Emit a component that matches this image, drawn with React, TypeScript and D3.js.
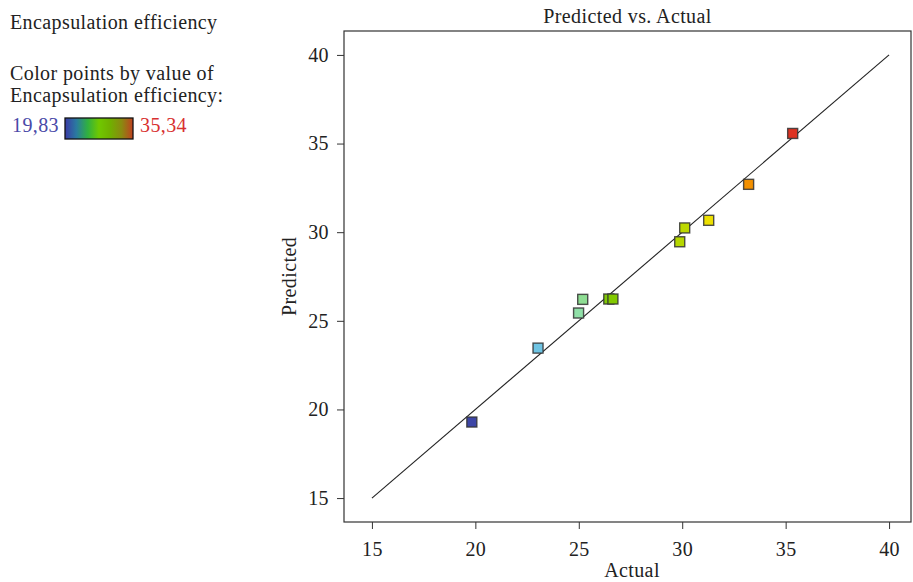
import * as d3 from "d3";
import { useEffect, useRef } from "react";

// actual vs predicted encapsulation efficiency
const actual = [19.83, 23.03, 24.99, 25.19, 26.45, 26.65, 29.88, 30.12, 31.28, 33.21, 35.34];
const predicted = [19.29, 23.46, 25.44, 26.21, 26.23, 26.23, 29.46, 30.24, 30.67, 32.70, 35.57];
const ticks = [15, 20, 25, 30, 35, 40];
const minVal = 19.83;
const maxVal = 35.34;

const colorStops = [19.83, 23.0, 25.0, 26.5, 30.0, 31.3, 33.2, 35.34];
const colorRange = ["#3d46a6", "#6ec4e4", "#90e0a8", "#80c800", "#b8d800", "#eee000", "#f39000", "#dd3322"];
const legendStops = ["#3a3aa6", "#2a7aa0", "#30b040", "#70c800", "#70b000", "#8a8a10", "#c04020"];

const W = 913;
const H = 582;
const font = "'Liberation Serif', 'DejaVu Serif', serif";
const fs = 20;
const ls = "0.4px";

export default function App() {
  const svgRef = useRef<SVGSVGElement>(null);

  useEffect(() => {
    const svg = d3.select(svgRef.current);
    svg.selectAll("*").remove();

    const left = 344, right = 911, top = 31, bottom = 522;

    const x = d3.scaleLinear().domain([13.65, 41.06]).range([left, right]);
    const y = d3.scaleLinear().domain([13.65, 41.35]).range([bottom, top]);
    const color = d3.scaleLinear<string>().domain(colorStops).range(colorRange);

    // frame
    svg.append("rect")
      .attr("x", left).attr("y", top)
      .attr("width", right - left).attr("height", bottom - top)
      .attr("fill", "none").attr("stroke", "#333").attr("stroke-width", 1.2);

    const xAxis = svg.append("g")
      .attr("transform", `translate(0,${bottom})`)
      .call(d3.axisBottom(x).tickValues(ticks).tickSize(7).tickPadding(13).tickFormat(d3.format("d")));
    xAxis.select(".domain").remove();
    xAxis.selectAll("line").attr("stroke", "#333");
    xAxis.selectAll("text").attr("font-family", font).attr("font-size", fs)
      .attr("letter-spacing", ls).attr("fill", "#222");

    const yAxis = svg.append("g")
      .attr("transform", `translate(${left},0)`)
      .call(d3.axisLeft(y).tickValues(ticks).tickSize(7).tickPadding(8).tickFormat(d3.format("d")));
    yAxis.select(".domain").remove();
    yAxis.selectAll("line").attr("stroke", "#333");
    yAxis.selectAll("text").attr("font-family", font).attr("font-size", fs)
      .attr("letter-spacing", ls).attr("fill", "#222");

    const label = (tx: number, ty: number, txt: string, anchor = "start", fill = "#222") =>
      svg.append("text")
        .attr("x", tx).attr("y", ty)
        .attr("text-anchor", anchor)
        .attr("font-family", font).attr("font-size", fs)
        .attr("letter-spacing", ls).attr("fill", fill)
        .text(txt);

    // titles
    label((left + right) / 2, 23, "Predicted vs. Actual", "middle");
    label(632, 577, "Actual", "middle");
    svg.append("text")
      .attr("transform", `translate(296,${(top + bottom) / 2}) rotate(-90)`)
      .attr("text-anchor", "middle")
      .attr("font-family", font).attr("font-size", fs)
      .attr("letter-spacing", ls).attr("fill", "#222")
      .text("Predicted");

    // y = x line
    svg.append("line")
      .attr("x1", x(15)).attr("y1", y(15))
      .attr("x2", x(40)).attr("y2", y(40))
      .attr("stroke", "#222").attr("stroke-width", 1.1);

    // points
    const s = 10;
    const pts = actual.map((a, i) => ({ a, p: predicted[i] }));
    svg.append("g")
      .selectAll("rect")
      .data(pts)
      .join("rect")
      .attr("x", (d) => x(d.a) - s / 2)
      .attr("y", (d) => y(d.p) - s / 2)
      .attr("width", s).attr("height", s)
      .attr("fill", (d) => color(d.a))
      .attr("stroke", "#333").attr("stroke-width", 1.4)
      .attr("stroke-opacity", 0.85);

    // legend
    label(10, 29, "Encapsulation efficiency");
    label(10, 80, "Color points by value of");
    label(10, 102, "Encapsulation efficiency:");

    const fmt = (v: number) => v.toFixed(2).replace(".", ",");
    label(12, 132, fmt(minVal), "start", "#4a4aa8");
    label(140, 132, fmt(maxVal), "start", "#d83030");

    const grad = svg.append("defs").append("linearGradient")
      .attr("id", "legGrad").attr("x1", "0%").attr("x2", "100%");
    legendStops.forEach((c, i) => {
      grad.append("stop")
        .attr("offset", `${(i / (legendStops.length - 1)) * 100}%`)
        .attr("stop-color", c);
    });
    svg.append("rect")
      .attr("x", 65).attr("y", 118).attr("width", 68).attr("height", 21)
      .attr("fill", "url(#legGrad)").attr("stroke", "#111").attr("stroke-width", 1.3);
  }, []);

  return (
    <svg ref={svgRef} width={W} height={H}
      style={{ position: "absolute", left: 0, top: 0, background: "#fff" }} />
  );
}
